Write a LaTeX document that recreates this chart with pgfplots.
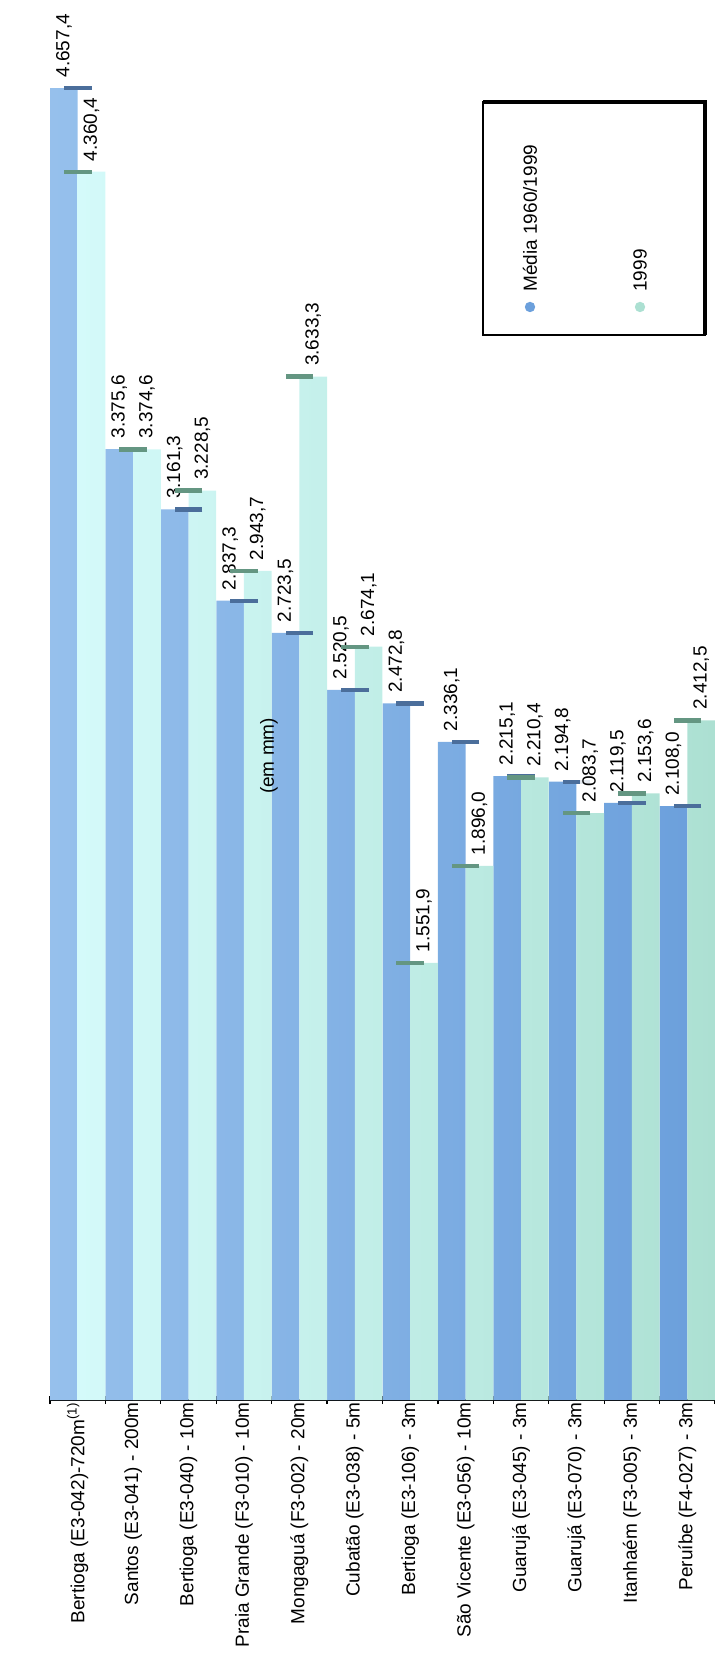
\documentclass[border=0pt]{standalone}
\usepackage{pgfplots}
\pgfplotsset{compat=1.18}
\usepackage{fontspec}
\setmainfont{Liberation Sans}

\definecolor{mediaL}{RGB}{150,192,236}
\definecolor{mediaR}{RGB}{108,160,220}
\definecolor{anoL}{RGB}{212,250,250}
\definecolor{anoR}{RGB}{172,224,210}
\definecolor{mediaCap}{RGB}{75,110,155}
\definecolor{anoCap}{RGB}{100,150,130}

\newcommand{\lbl}{\fontsize{9.5}{11}\selectfont}

\begin{document}
\begin{tikzpicture}[x=1pt,y=1pt]
\begin{axis}[
    at={(0,0)}, anchor=south west,
    scale only axis, width=332.5pt, height=700pt,
    xmin=-0.5, xmax=11.5, ymin=0, ymax=4970,
    ybar=0pt, bar width=13.85pt,
    axis x line*=bottom, axis y line=none,
    x axis line style={black, line width=0.8pt},
    xtick={0,...,11},
    xticklabels={
      Bertioga (E3-042)-720m\textsuperscript{(1)},
      Santos (E3-041) - 200m,
      Bertioga (E3-040) - 10m,
      Praia Grande (F3-010) - 10m,
      Mongaguá (F3-002) - 20m,
      Cubatão (E3-038) - 5m,
      Bertioga (E3-106) - 3m,
      São Vicente (E3-056) - 10m,
      Guarujá (E3-045) - 3m,
      Guarujá (E3-070) - 3m,
      Itanhaém (F3-005) - 3m,
      Peruíbe (F4-027) - 3m},
    major tick length=0pt,
    minor xtick={-0.5,0.5,...,11.5},
    minor tick length=4pt,
    tick align=center,
    tick style={black, line width=0.6pt},
    x tick label style={rotate=90, anchor=east, font=\lbl, inner sep=1pt},
    nodes near coords={\pgfmathprintnumber[fixed,fixed zerofill,precision=1,use comma,1000 sep={.},assume math mode=true]{\pgfplotspointmeta}},
    nodes near coords style={yshift=3pt, rotate=90, anchor=west, font=\lbl,
      fill=white, fill opacity=0.85, text opacity=1, inner sep=1.2pt},
  ]
  % Media 1960/1999
  \addplot[draw=none, left color=mediaL, right color=mediaR,
    mark=-, mark size=6.9pt, mark options={draw=mediaCap, line width=2.2pt}]
    coordinates {
      (0,4657.4) (1,3375.6) (2,3161.3) (3,2837.3) (4,2723.5) (5,2520.5)
      (6,2472.8) (7,2336.1) (8,2215.1) (9,2194.8) (10,2119.5) (11,2108.0)
    };
  % 1999
  \addplot[draw=none, left color=anoL, right color=anoR,
    mark=-, mark size=6.9pt, mark options={draw=anoCap, line width=2.2pt}]
    coordinates {
      (0,4360.4) (1,3374.6) (2,3228.5) (3,2943.7) (4,3633.3) (5,2674.1)
      (6,1551.9) (7,1896.0) (8,2210.4) (9,2083.7) (10,2153.6) (11,2412.5)
    };
\end{axis}

% unit
\node[rotate=90, font=\lbl] at (109.5,322) {(em mm)};

% legend, set sideways like the rest of the chart
\draw[black, line width=0.6pt] (216.5,532.5) rectangle (327.5,649);
\draw[black, line width=2.2pt] (216.5,649) -- (327.5,649) -- (327.5,532.5);
\fill[mediaR] (240,546.5) circle (2.6pt);
\fill[anoR] (295,546.5) circle (2.6pt);
\node[rotate=90, anchor=west, font=\lbl, inner sep=0pt] at (240,554) {Média 1960/1999};
\node[rotate=90, anchor=west, font=\lbl, inner sep=0pt] at (295,554) {1999};

\pgfresetboundingbox
\path[use as bounding box] (-25,-131.5) rectangle (332.5,700);
\end{tikzpicture}
\end{document}
